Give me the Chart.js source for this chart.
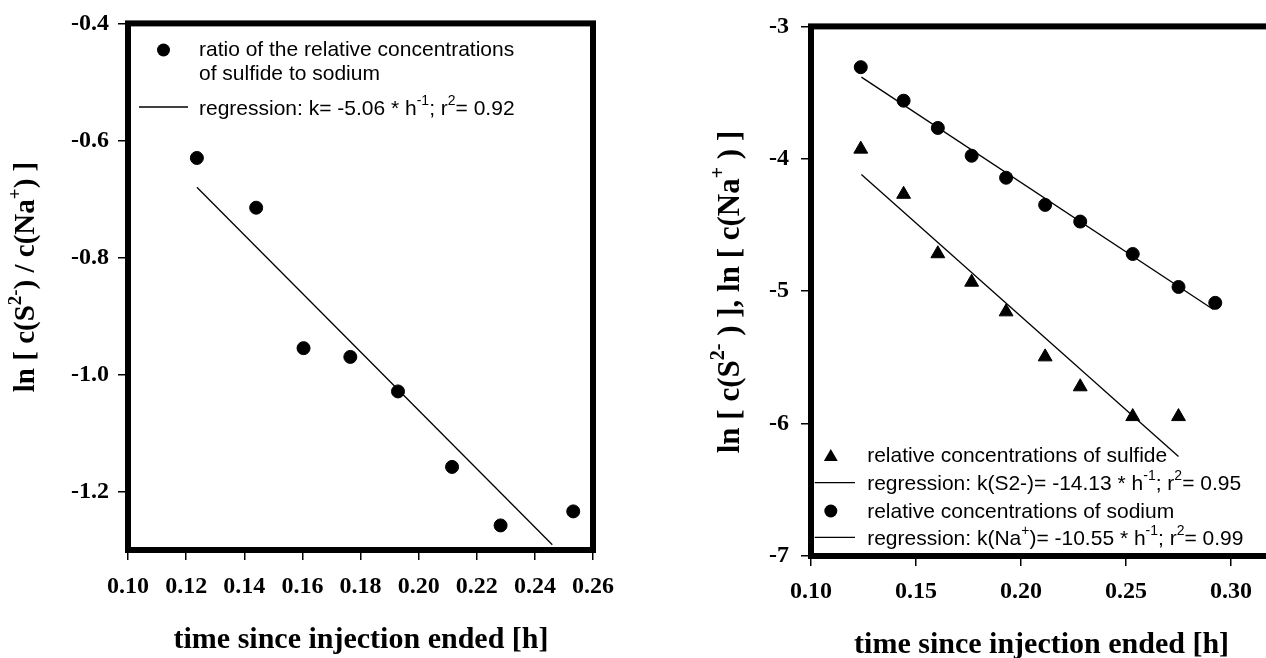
<!DOCTYPE html>
<html>
<head>
<meta charset="utf-8">
<script src="https://cdn.jsdelivr.net/npm/chart.js@4.4.0/dist/chart.umd.min.js"></script>
<style>
html, body { margin: 0; padding: 0; background: #fff; overflow: hidden; width: 1266px; height: 658px; }
#left { position: absolute; left: 0; top: 0; }
#right { position: absolute; left: 633px; top: 0; }
</style>
</head>
<body>
<canvas id="left" width="633" height="658"></canvas>
<canvas id="right" width="720" height="658"></canvas>
<script>
// sampling times [h]
const times = [0.1237, 0.1441, 0.1604, 0.1765, 0.1929, 0.2115, 0.2282, 0.2532, 0.275, 0.2925];

// left panel: ln of ratio sulfide / sodium
const ratio = [-0.630, -0.715, -0.955, -0.970, -1.029, -1.158, -1.258, -1.234];
const ratioFitX = [0.1237, 0.246];
const ratioFitY = [-0.680, -1.291];

// right panel: ln of relative concentrations
const sulfide = [-3.927, -4.268, -4.717, -4.932, -5.156, -5.496, -5.722, -5.947, -5.947];
const sodium = [-3.308, -3.561, -3.767, -3.977, -4.143, -4.348, -4.474, -4.719, -4.968, -5.088];
const sulfideFitX = [0.124, 0.275];
const sulfideFitY = [-4.118, -6.248];
const sodiumFitX = [0.124, 0.2916];
const sodiumFitY = [-3.383, -5.138];

const xTitle = "time since injection ended [h]";
const leftYTitle = "ln [ c(S^{2-}) / c(Na^{+}) ]";
const rightYTitle = "ln [ c(S^{2-} ) ], ln [ c(Na^{+} ) ]";

const SERIF = '"Liberation Serif", "Times New Roman", serif';
const SANS = '"Liberation Sans", Arial, sans-serif';

function pts(xs, ys) {
    return ys.map((y, i) => ({ x: xs[i], y: y }));
}

// text with ^{...} superscripts
function drawRich(ctx, str, x, y, size, family, weight, align, angle) {
    const parts = str.split(/\^\{([^}]*)\}/);
    const supSize = Math.round(size * 0.66);
    ctx.save();
    ctx.translate(x, y);
    ctx.rotate(angle || 0);
    ctx.textBaseline = "middle";
    ctx.textAlign = "left";
    ctx.fillStyle = "#000";
    let w = 0;
    parts.forEach((p, i) => {
        ctx.font = weight + " " + (i % 2 ? supSize : size) + "px " + family;
        w += ctx.measureText(p).width;
    });
    let cx = align === "center" ? -w / 2 : 0;
    parts.forEach((p, i) => {
        const sup = i % 2 === 1;
        ctx.font = weight + " " + (sup ? supSize : size) + "px " + family;
        ctx.fillText(p, cx, sup ? -size * 0.38 : 0);
        cx += ctx.measureText(p).width;
    });
    ctx.restore();
}

const decor = {
    id: "decor",
    afterDraw(chart, args, opts) {
        const ctx = chart.ctx;
        const a = chart.chartArea;
        ctx.save();
        ctx.strokeStyle = "#000";
        ctx.lineWidth = 6;
        ctx.strokeRect(a.left, a.top, a.right - a.left, a.bottom - a.top);

        // axis titles
        drawRich(ctx, xTitle, opts.xTitle[0], opts.xTitle[1], 30, SERIF, "bold", "center", 0);
        drawRich(ctx, opts.yTitle, opts.yTitlePos[0], opts.yTitlePos[1], opts.yTitleSize, SERIF, "bold", "center", -Math.PI / 2);

        // legend
        opts.legend.forEach(it => {
            ctx.fillStyle = "#000";
            ctx.strokeStyle = "#000";
            if (it.type === "circle") {
                ctx.beginPath();
                ctx.arc(it.mx, it.y, 6.5, 0, Math.PI * 2);
                ctx.fill();
            } else if (it.type === "triangle") {
                const r = 8;
                ctx.beginPath();
                ctx.moveTo(it.mx, it.y - r * 0.75);
                ctx.lineTo(it.mx + r * 0.87, it.y + r * 0.75);
                ctx.lineTo(it.mx - r * 0.87, it.y + r * 0.75);
                ctx.closePath();
                ctx.fill();
            } else {
                ctx.lineWidth = 1.3;
                ctx.beginPath();
                ctx.moveTo(it.mx, it.y);
                ctx.lineTo(it.mx2, it.y);
                ctx.stroke();
            }
            it.lines.forEach((t, k) => {
                drawRich(ctx, t, it.tx, it.ty + k * 24, 21, SANS, "normal", "left", 0);
            });
        });
        ctx.restore();
    }
};

function axis(min, max, step, digits, size, pad) {
    return {
        type: "linear",
        min: min,
        max: max,
        afterFit: s => {
            if (s.isHorizontal()) s.height = size; else s.width = size;
        },
        ticks: {
            stepSize: step,
            includeBounds: false,
            color: "#000",
            padding: pad,
            font: { family: SERIF, size: 24, weight: "bold" },
            callback: v => Number(v).toFixed(digits)
        },
        grid: {
            drawOnChartArea: false,
            drawTicks: true,
            tickLength: 10,
            color: "#000",
            lineWidth: 1.5
        },
        border: { display: false }
    };
}

function baseOptions(padding) {
    return {
        responsive: false,
        animation: false,
        events: [],
        layout: { padding: padding },
        plugins: { legend: { display: false }, tooltip: { enabled: false } }
    };
}

// left chart
const leftOpts = baseOptions({ left: 0, top: 18, right: 40, bottom: 0 });
leftOpts.scales = {
    x: axis(0.10, 0.26, 0.02, 2, 108, 12),
    y: axis(-1.3, -0.4, 0.2, 1, 128, 9)
};
leftOpts.plugins.decor = {
    xTitle: [361, 640],
    yTitle: leftYTitle,
    yTitleSize: 29,
    yTitlePos: [27, 277],
    legend: [
        { type: "circle", mx: 163.5, y: 50, tx: 199, ty: 50,
          lines: ["ratio of the relative concentrations", "of sulfide to sodium"] },
        { type: "line", mx: 139, mx2: 188, y: 107, tx: 199, ty: 109,
          lines: ["regression: k= -5.06 * h^{-1}; r^{2}= 0.92"] }
    ]
};

new Chart(document.getElementById("left"), {
    type: "scatter",
    data: {
        datasets: [{
            data: pts(times, ratio),
            pointStyle: "circle",
            pointRadius: 6.5,
            backgroundColor: "#000",
            borderColor: "#000",
            clip: false
        }, {
            data: pts(ratioFitX, ratioFitY),
            showLine: true,
            pointRadius: 0,
            borderColor: "#000",
            borderWidth: 1.3
        }]
    },
    options: leftOpts,
    plugins: [decor]
});

// right chart
const rightOpts = baseOptions({ left: 0, top: 25, right: 80, bottom: 0 });
rightOpts.scales = {
    x: axis(0.10, 0.32, 0.05, 2, 102, 11),
    y: axis(-7, -3, 1, 0, 178, 12)
};
rightOpts.plugins.decor = {
    xTitle: [408.6, 645],
    yTitle: rightYTitle,
    yTitleSize: 31,
    yTitlePos: [98, 292],
    legend: [
        { type: "triangle", mx: 197.8, y: 455, tx: 234.2, ty: 456,
          lines: ["relative concentrations of sulfide"] },
        { type: "line", mx: 181.7, mx2: 222, y: 482.7, tx: 234.2, ty: 484,
          lines: ["regression: k(S2-)= -14.13 * h^{-1}; r^{2}= 0.95"] },
        { type: "circle", mx: 197.8, y: 511, tx: 234.2, ty: 512,
          lines: ["relative concentrations of sodium"] },
        { type: "line", mx: 181.7, mx2: 222, y: 537.3, tx: 234.2, ty: 539,
          lines: ["regression: k(Na^{+})= -10.55 * h^{-1}; r^{2}= 0.99"] }
    ]
};

new Chart(document.getElementById("right"), {
    type: "scatter",
    data: {
        datasets: [{
            data: pts(times, sulfide),
            pointStyle: "triangle",
            pointRadius: 8,
            backgroundColor: "#000",
            borderColor: "#000",
            clip: false
        }, {
            data: pts(times, sodium),
            pointStyle: "circle",
            pointRadius: 6.5,
            backgroundColor: "#000",
            borderColor: "#000",
            clip: false
        }, {
            data: pts(sulfideFitX, sulfideFitY),
            showLine: true,
            pointRadius: 0,
            borderColor: "#000",
            borderWidth: 1.3
        }, {
            data: pts(sodiumFitX, sodiumFitY),
            showLine: true,
            pointRadius: 0,
            borderColor: "#000",
            borderWidth: 1.3
        }]
    },
    options: rightOpts,
    plugins: [decor]
});
</script>
</body>
</html>
